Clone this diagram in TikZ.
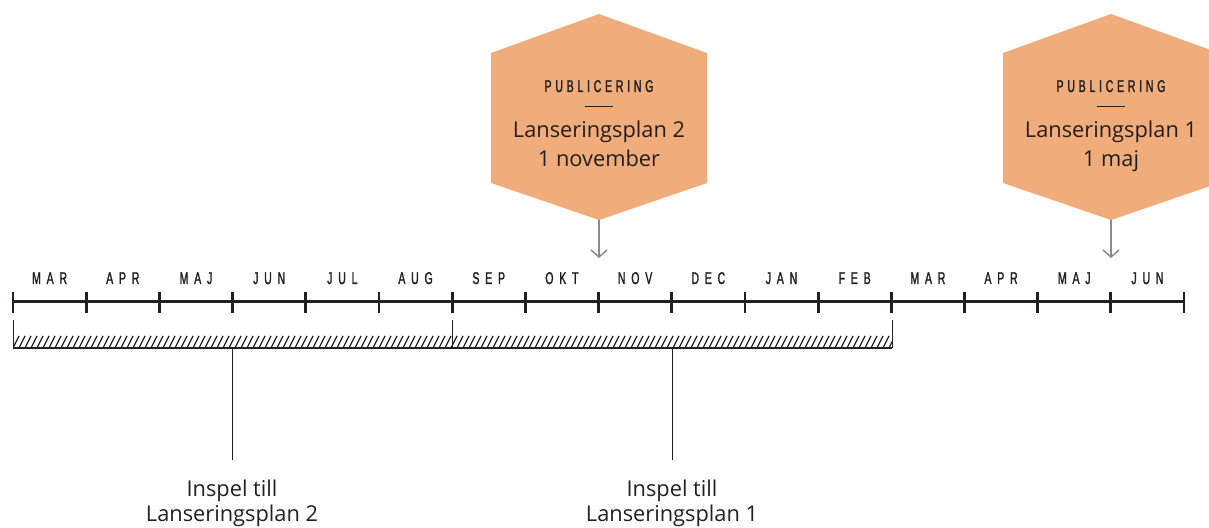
\documentclass[tikz,border=0pt]{standalone}
\usepackage{fontspec}
\setmainfont{Open Sans}
\newfontfamily\capsfont[FakeStretch=0.62,LetterSpace=34,FakeBold=1.5]{Liberation Sans}
\newfontfamily\headfont[FakeStretch=0.62,LetterSpace=22,FakeBold=1.5]{Liberation Sans}
\usetikzlibrary{arrows.meta,calc,positioning}
\definecolor{ink}{HTML}{231F20}
\definecolor{hexfill}{HTML}{F0AD7B}
\definecolor{pointer}{HTML}{8A8A8A}
\tikzset{axis/.style={draw=ink,line width=1.5pt},tick/.style={draw=ink,line width=1.4pt},month/.style={font=\capsfont\fontsize{8.5}{9}\selectfont,text=ink,inner sep=0pt,anchor=base},hexa/.style={fill=hexfill,draw=none},label/.style={font=\fontsize{10.9}{12}\selectfont,text=ink,inner sep=0pt,anchor=base},pub/.style={-{Straight Barb[length=3.5pt,width=8pt]},draw=pointer,line width=.75pt},bracket/.style={draw=ink,line width=.5pt},hatch/.style={draw=ink,line width=.6pt}}
\begin{document}
\begin{tikzpicture}[x=.5pt,y=-.5pt]
 \useasboundingbox (0,0) rectangle (1209,528);
 \foreach \i in {0,...,16} \coordinate (t\i) at ({13+\i*73.19},302);
 \draw[axis] (t0)--(t16);
 \foreach \i in {0,...,16} \draw[tick] ($(t\i)+(0,-10)$)--($(t\i)+(0,11)$);
 \foreach \m [count=\i] in {MAR,APR,MAJ,JUN,JUL,AUG,SEP,OKT,NOV,DEC,JAN,FEB,MAR,APR,MAJ,JUN}
  \node[month] (m\i) at ({13+(\i-.5)*73.19},284) {\m};
 % hatched band
 \begin{scope}
  \clip (13,336) rectangle (892,348);
  \foreach \x in {7,13,...,892} \draw[hatch] (\x,348)--(\x+6,336);
 \end{scope}
 \coordinate (bandL) at (13,348); \coordinate (bandM) at (452,348); \coordinate (bandR) at (892,348);
 \draw[ink,line width=.8pt] (bandL)--(bandR);
 \foreach \c in {bandL,bandM,bandR} \draw[bracket] (\c)--++(0,-28);
 \foreach \cx/\name/\nr in {232/inB/2,672/inA/1}{
  \coordinate (\name-top) at (\cx,348); \coordinate (\name-end) at (\cx,460);
  \draw[bracket] (\name-top)--(\name-end);
  \node[label] (\name-l1) at (\cx,496) {Inspel till};
  \node[label] (\name-l2) at (\cx,522) {Lanseringsplan \nr};
 }
 % publicering
 \foreach \cx/\name/\nr/\dag in {599/pubB/2/1 november,1111/pubA/1/1 maj}{
  \fill[hexa] (\cx,14)--(\cx+108,53)--(\cx+108,183)--(\cx,220)--(\cx-108,183)--(\cx-108,53)--cycle;
  \coordinate (\name-bot) at (\cx,220); \coordinate (\name-tip) at (\cx,258);
  \draw[pub] (\name-bot)--(\name-tip);
  \node[month,font=\headfont\fontsize{8.5}{9}\selectfont] (\name-head) at (\cx,92) {PUBLICERING};
  \coordinate (\name-r1) at (\cx-14,107); \coordinate (\name-r2) at (\cx+14,107);
  \draw[ink,line width=.5pt] (\name-r1)--(\name-r2);
  \node[label] (\name-l1) at (\cx,138) {Lanseringsplan \nr};
  \node[label] (\name-l2) at (\cx,167) {\dag};
 }
\end{tikzpicture}
\end{document}
